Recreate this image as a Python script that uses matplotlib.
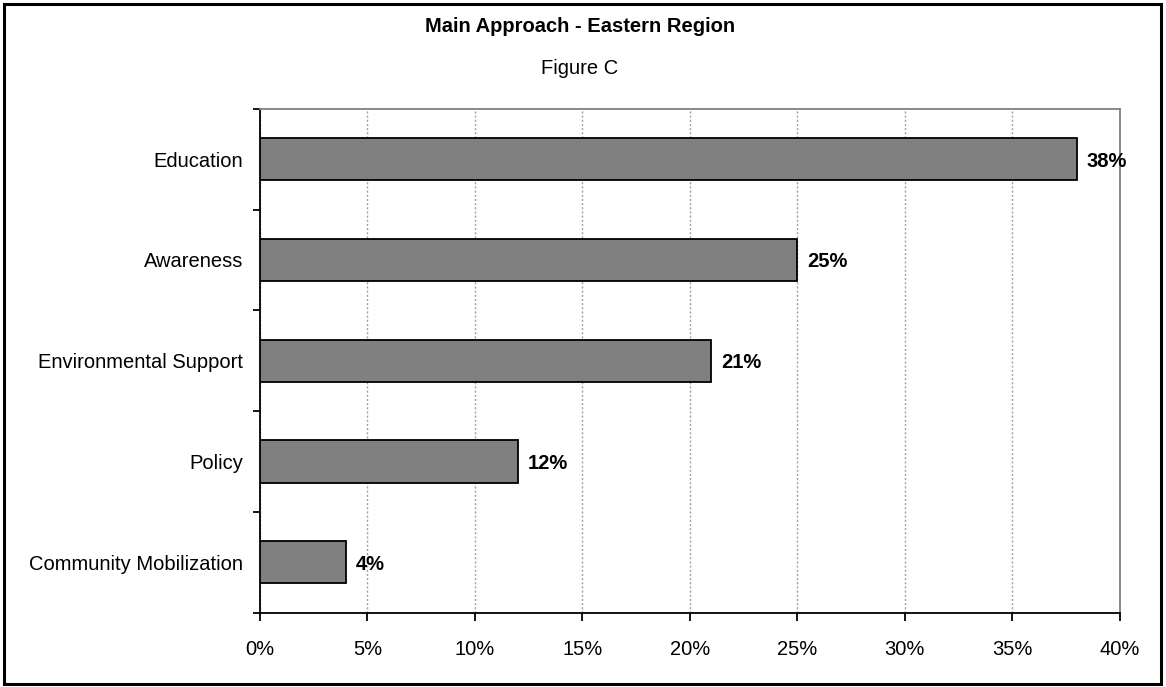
import matplotlib
matplotlib.use("Agg")
import matplotlib.pyplot as plt
from matplotlib.patches import Rectangle
from matplotlib.ticker import MultipleLocator, FixedLocator, PercentFormatter

categories = ["Education", "Awareness", "Environmental Support", "Policy", "Community Mobilization"]
values = [38, 25, 21, 12, 4]
labels = ["38%", "25%", "21%", "12%", "4%"]
title = "Main Approach - Eastern Region"
subtitle = "Figure C"

plt.rcParams['font.family'] = ['Liberation Sans', 'DejaVu Sans']
FS = 14.5

fig = plt.figure(figsize=(11.66, 6.87), dpi=100)
ax = fig.add_axes([260/1166, 1-612.7/687, (1119.5-260)/1166, (612.7-108.7)/687])

n = len(categories)
ypos = list(range(n))[::-1]
ax.barh(ypos, values, height=0.42, color="#808080", edgecolor="black", linewidth=1.3, zorder=3)
for y, v, l in zip(ypos, values, labels):
    ax.text(v + 0.45, y - 0.02, l, va="center", ha="left", fontsize=FS, fontweight="bold", zorder=4)

ax.set_xlim(0, 40)
ax.set_ylim(-0.5, n - 0.5)
ax.xaxis.set_major_locator(MultipleLocator(5))
ax.xaxis.set_major_formatter(PercentFormatter(decimals=0))
ax.set_yticks(ypos)
ax.set_yticklabels(categories, fontsize=FS)
ax.yaxis.set_minor_locator(FixedLocator([i - 0.5 for i in range(n + 1)]))
ax.tick_params(axis="y", which="major", length=0, pad=12)
ax.tick_params(axis="y", which="minor", length=5, width=1.3, direction="out", color="black")
ax.tick_params(axis="x", length=6, width=1.3, direction="out", labelsize=FS, pad=14, color="black")
ax.grid(axis="x", color="#a0a0a0", linestyle=(0, (1.5, 1.5)), linewidth=1, zorder=0)

for s in ["top", "right"]:
    ax.spines[s].set_color("#808080")
    ax.spines[s].set_linewidth(1.3)
for s in ["left", "bottom"]:
    ax.spines[s].set_color("black")
    ax.spines[s].set_linewidth(1.3)

fig.text(580/1166, 1-26.5/687, title, ha="center", va="center", fontsize=FS, fontweight="bold")
fig.text(580/1166, 1-68.5/687, subtitle, ha="center", va="center", fontsize=FS)

fig.patches.append(Rectangle((4/1166, 3.5/687), (1161-4)/1166, (683.5-3.5)/687,
                             transform=fig.transFigure, fill=False, edgecolor="black", linewidth=2.2))

fig.savefig("out.png", dpi=100)
